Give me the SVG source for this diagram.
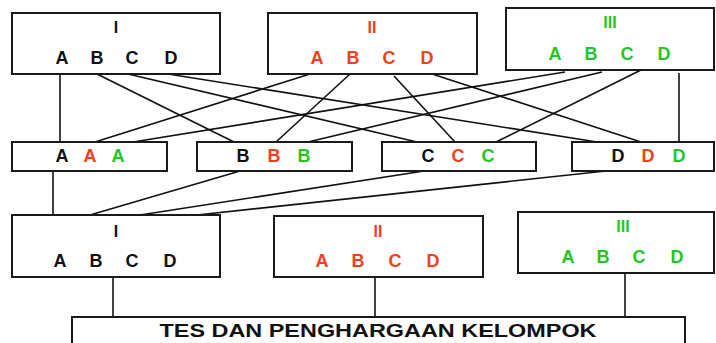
<svg xmlns="http://www.w3.org/2000/svg" width="716" height="343" viewBox="0 0 716 343">
<style>
.box{fill:#fff;stroke:#1a1a1a;stroke-width:2}
.t{font-family:"Liberation Sans",Arial,sans-serif;font-weight:bold;font-size:18px;text-anchor:middle}
.n{font-size:16px}
.k{fill:#111}
.r{fill:#f2401c}
.g{fill:#1ec81e}
.c line{stroke:#111;stroke-width:1.6}
</style>
<rect width="716" height="343" fill="#fff"/>
<g class="c" id="connectors">
<line x1="60" y1="74" x2="60" y2="142"/>
<line x1="97" y1="74" x2="234" y2="142"/>
<line x1="128" y1="74" x2="417" y2="142"/>
<line x1="168" y1="74" x2="597" y2="142"/>
<line x1="310" y1="74" x2="95" y2="142"/>
<line x1="350" y1="74" x2="276" y2="142"/>
<line x1="394" y1="76" x2="455" y2="142"/>
<line x1="429" y1="73" x2="641" y2="142"/>
<line x1="565" y1="72" x2="133" y2="142"/>
<line x1="602" y1="72" x2="308" y2="142"/>
<line x1="643" y1="69" x2="496" y2="142"/>
<line x1="679" y1="73" x2="679" y2="142"/>
<line x1="53" y1="171" x2="53" y2="215"/>
<line x1="240" y1="171" x2="90" y2="215"/>
<line x1="424" y1="171" x2="140" y2="215"/>
<line x1="606" y1="171" x2="197" y2="215"/>
<line x1="113" y1="277" x2="113" y2="317"/>
<line x1="375" y1="277" x2="375" y2="317"/>
<line x1="625" y1="273" x2="625" y2="317"/>
</g>
<g id="top-I">
<rect class="box" x="12" y="13" width="208" height="61"/>
<text class="t n k" x="116" y="33">I</text>
<text class="t k" x="62" y="64">A</text><text class="t k" x="97" y="64">B</text><text class="t k" x="132" y="64">C</text><text class="t k" x="171" y="64">D</text>
</g>
<g id="top-II">
<rect class="box" x="268" y="13" width="209" height="61"/>
<text class="t n r" x="372" y="33">II</text>
<text class="t r" x="317" y="64">A</text><text class="t r" x="353" y="64">B</text><text class="t r" x="389" y="64">C</text><text class="t r" x="427" y="64">D</text>
</g>
<g id="top-III">
<rect class="box" x="506" y="8" width="208" height="62"/>
<text class="t n g" x="610" y="28">III</text>
<text class="t g" x="555" y="60">A</text><text class="t g" x="591" y="60">B</text><text class="t g" x="627" y="60">C</text><text class="t g" x="664" y="60">D</text>
</g>
<g id="mid-A">
<rect class="box" x="12" y="142" width="155" height="29"/>
<text class="t k" x="62" y="162">A</text><text class="t r" x="90" y="162">A</text><text class="t g" x="118" y="162">A</text>
</g>
<g id="mid-B">
<rect class="box" x="197" y="142" width="155" height="29"/>
<text class="t k" x="243" y="162">B</text><text class="t r" x="274" y="162">B</text><text class="t g" x="304" y="162">B</text>
</g>
<g id="mid-C">
<rect class="box" x="382" y="142" width="154" height="29"/>
<text class="t k" x="428" y="162">C</text><text class="t r" x="458" y="162">C</text><text class="t g" x="488" y="162">C</text>
</g>
<g id="mid-D">
<rect class="box" x="572" y="142" width="142" height="29"/>
<text class="t k" x="618" y="162">D</text><text class="t r" x="648" y="162">D</text><text class="t g" x="679" y="162">D</text>
</g>
<g id="bottom-I">
<rect class="box" x="12" y="215" width="208" height="62"/>
<text class="t n k" x="116" y="237">I</text>
<text class="t k" x="60" y="267">A</text><text class="t k" x="96" y="267">B</text><text class="t k" x="132" y="267">C</text><text class="t k" x="170" y="267">D</text>
</g>
<g id="bottom-II">
<rect class="box" x="274" y="216" width="209" height="61"/>
<text class="t n r" x="378" y="237">II</text>
<text class="t r" x="322" y="267">A</text><text class="t r" x="358" y="267">B</text><text class="t r" x="395" y="267">C</text><text class="t r" x="433" y="267">D</text>
</g>
<g id="bottom-III">
<rect class="box" x="518" y="212" width="196" height="61"/>
<text class="t n g" x="623" y="232">III</text>
<text class="t g" x="568" y="263">A</text><text class="t g" x="603" y="263">B</text><text class="t g" x="639" y="263">C</text><text class="t g" x="677" y="263">D</text>
</g>
<g id="tes">
<rect class="box" x="72" y="317" width="613" height="40"/>
<text class="t k" x="378" y="337" font-size="19" textLength="437" lengthAdjust="spacingAndGlyphs">TES DAN PENGHARGAAN KELOMPOK</text>
</g>
</svg>
